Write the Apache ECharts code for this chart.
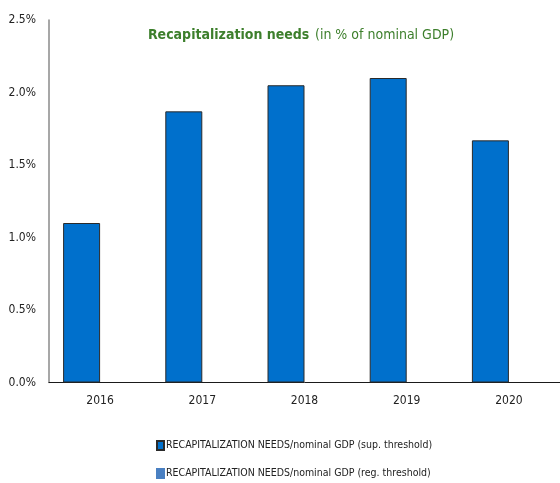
<!DOCTYPE html>
<html>
<head>
<meta charset="utf-8">
<script src="https://cdn.jsdelivr.net/npm/echarts@6/dist/echarts.min.js"></script>
<style>
  html, body { margin: 0; padding: 0; background: #ffffff; }
  #chart { width: 560px; height: 483px; }
</style>
</head>
<body>
<div id="chart"></div>
<script>
// Recapitalization needs as a share of nominal GDP, by year
const years = ['2016', '2017', '2018', '2019', '2020'];
const supThreshold = [1.10, 1.87, 2.05, 2.10, 1.67];
const regThreshold = [null, null, null, null, null];
const seriesNames = [
  'RECAPITALIZATION NEEDS/nominal GDP (sup. threshold)',
  'RECAPITALIZATION NEEDS/nominal GDP (reg. threshold)'
];
const yTicks = { min: 0, max: 2.5, interval: 0.5 };

const font = "'Liberation Sans Narrow', 'DejaVu Sans Condensed', sans-serif";

const chart = echarts.init(document.getElementById('chart'), null, { renderer: 'canvas' });
chart.setOption({
  animation: false,
  textStyle: { fontFamily: font },
  title: {
    text: '{b|Recapitalization needs} {r|(in % of nominal GDP)}',
    left: 301,
    textAlign: 'center',
    top: 26,
    padding: 0,
    textStyle: {
      rich: {
        b: { fontFamily: font, fontSize: 14, fontWeight: 'bold', color: '#3d7f2c' },
        r: { fontFamily: font, fontSize: 14, fontWeight: 'normal', color: '#3d7f2c' }
      }
    }
  },
  legend: {
    orient: 'vertical',
    left: 156,
    top: 440,
    padding: 0,
    itemWidth: 7,
    itemHeight: 9,
    itemGap: 17,
    icon: 'rect',
    textStyle: { fontFamily: font, fontSize: 10.5, color: '#222', padding: [0, 0, 0, -3] },
    data: seriesNames
  },
  grid: { left: 49, right: -6, top: 20, bottom: 100.5, containLabel: false },
  xAxis: {
    type: 'category',
    data: years,
    axisLine: { lineStyle: { color: '#1a1a1a', width: 1 } },
    axisTick: { show: false },
    axisLabel: { color: '#222', fontSize: 12, margin: 12, fontFamily: font }
  },
  yAxis: {
    type: 'value',
    min: yTicks.min,
    max: yTicks.max,
    interval: yTicks.interval,
    axisLine: { show: true, lineStyle: { color: '#8a8a8a', width: 1.5 } },
    axisTick: { show: false },
    splitLine: { show: false },
    axisLabel: {
      color: '#222',
      fontSize: 12,
      margin: 13,
      fontFamily: font,
      formatter: v => v.toFixed(1) + '%'
    }
  },
  series: [
    {
      name: seriesNames[0],
      type: 'bar',
      data: supThreshold,
      barWidth: 37,
      barGap: '0%',
      itemStyle: { color: '#0070cc', borderColor: '#2a2a2a', borderWidth: 1 }
    },
    {
      name: seriesNames[1],
      type: 'bar',
      data: regThreshold,
      barWidth: 37,
      itemStyle: { color: '#4a80c2', borderColor: '#4a80c2', borderWidth: 1 }
    }
  ]
});
</script>
</body>
</html>
